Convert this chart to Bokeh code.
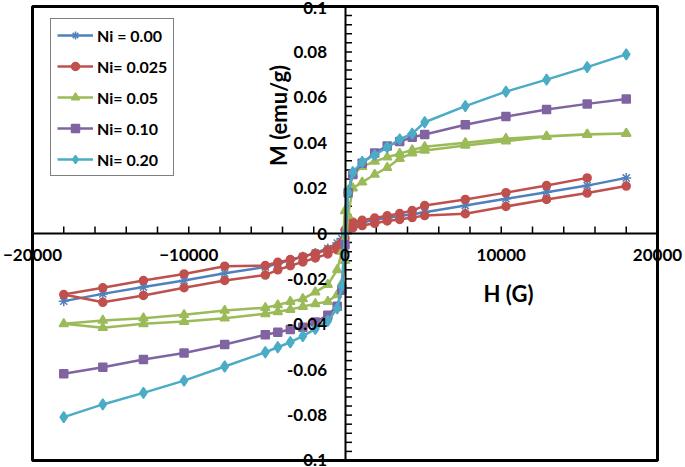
from math import pi
from bokeh.plotting import figure
from bokeh.models import LinearAxis, FixedTicker, Label, PrintfTickFormatter, BoxAnnotation
from bokeh.embed import file_html
from bokeh.resources import INLINE

# ---------------- data ----------------
H_DOWN = [18000, 15500, 12900, 10300, 7700, 5100, 4300, 3500, 2700, 1900, 1100, 500, 200, 0,
          -200, -500, -1100, -1900, -2700, -3500, -4300, -5100, -7700, -10300, -12900, -15500, -18000]
H_UP = list(reversed(H_DOWN))

# Ni = 0.00 (single branch, ascending field)
M_NI000 = [-0.0298, -0.0266, -0.0236, -0.0207, -0.0175, -0.0148, -0.0132, -0.0118, -0.0102, -0.0086,
           -0.0066, -0.0042, -0.0022, 0.0000, 0.0018, 0.0032, 0.0048, 0.0060, 0.0068, 0.0077,
           0.0085, 0.0094, 0.0123, 0.0153, 0.0182, 0.0211, 0.0245]

# Ni = 0.025 (loop: descending from 15500, then ascending from -15500)
M_NI025_DOWN = [0.0245, 0.0211, 0.0180, 0.0150, 0.0123, 0.0101, 0.0088, 0.0078, 0.0068, 0.0058,
                0.0050, 0.0040, 0.0015, -0.0040, -0.0055, -0.0072, -0.0088, -0.0102, -0.0115, -0.0127,
                -0.0141, -0.0144, -0.0178, -0.0207, -0.0239, -0.0269]
M_NI025_UP = [-0.0303, -0.0273, -0.0239, -0.0207, -0.0183, -0.0160, -0.0142, -0.0125, -0.0108, -0.0090,
              -0.0072, -0.0050, -0.0020, 0.0015, 0.0025, 0.0035, 0.0045, 0.0055, 0.0062, 0.0070,
              0.0079, 0.0087, 0.0119, 0.0150, 0.0178, 0.0209]

# Ni = 0.05 (loop: descending from 18000, then ascending from -15500)
M_NI05_DOWN = [0.0440, 0.0437, 0.0428, 0.0418, 0.0400, 0.0382, 0.0368, 0.0352, 0.0336, 0.0318,
               0.0295, 0.0260, 0.0190, 0.0100, -0.0080, -0.0160, -0.0225, -0.0258, -0.0288, -0.0300,
               -0.0315, -0.0327, -0.0339, -0.0358, -0.0373, -0.0383, -0.0398]
M_NI05_UP = [-0.0415, -0.0398, -0.0388, -0.0373, -0.0354, -0.0345, -0.0335, -0.0322, -0.0310, -0.0300,
             -0.0270, -0.0220, -0.0120, 0.0080, 0.0200, 0.0226, 0.0260, 0.0290, 0.0330, 0.0354,
             0.0366, 0.0388, 0.0407, 0.0427, 0.0436, 0.0440]

# Ni = 0.10 (single branch, ascending field)
M_NI10 = [-0.0618, -0.0589, -0.0555, -0.0526, -0.0489, -0.0446, -0.0435, -0.0423, -0.0413, -0.0390,
          -0.0360, -0.0320, -0.0250, -0.0050, 0.0180, 0.0260, 0.0310, 0.0355, 0.0385, 0.0405,
          0.0424, 0.0436, 0.0479, 0.0515, 0.0546, 0.0571, 0.0593]

# Ni = 0.20 (single branch, ascending field)
M_NI20 = [-0.0809, -0.0753, -0.0702, -0.0648, -0.0586, -0.0523, -0.0501, -0.0479, -0.0452, -0.0420,
          -0.0385, -0.0330, -0.0230, 0.0000, 0.0180, 0.0270, 0.0315, 0.0345, 0.0380, 0.0415,
          0.0440, 0.0490, 0.0561, 0.0625, 0.0678, 0.0733, 0.0789]

SERIES_LABELS = ["Ni = 0.00", "Ni= 0.025", "Ni= 0.05", "Ni= 0.10", "Ni= 0.20"]

X_LIMITS = (-20000, 20000)
Y_LIMITS = (-0.1, 0.1)
X_TICKS = [-20000, -10000, 0, 10000, 20000]
X_MINOR = [v for v in range(-20000, 20001, 2000)]
Y_TICKS = [-0.08, -0.06, -0.04, -0.02, 0, 0.02, 0.04, 0.06, 0.08]
Y_END_TICKS = [0.1, -0.1]
Y_END_LABELS = ["0.1", "0.1"]
Y_MINOR = [round(-0.1 + 0.004 * i, 3) for i in range(51)]

X_TITLE = "H (G)"
Y_TITLE = "M (emu/g)"

# ---------------- figure ----------------
# the frame fills the canvas; the plotted box (-20000..20000, -0.1..0.1) sits inside it,
# so tick labels at the box edges are not clipped.
W, H = 685, 467
BOX_L, BOX_R, BOX_T, BOX_B = 32, 657, 6, 460          # box edges in pixels
xpp = (X_LIMITS[1] - X_LIMITS[0]) / (BOX_R - BOX_L)   # data units per pixel
ypp = (Y_LIMITS[1] - Y_LIMITS[0]) / (BOX_B - BOX_T)
x_range = (X_LIMITS[0] - BOX_L * xpp, X_LIMITS[1] + (W - BOX_R) * xpp)
y_range = (Y_LIMITS[0] - (H - BOX_B) * ypp, Y_LIMITS[1] + BOX_T * ypp)
TICK_PX = 7

FONT = "Lato"
p = figure(width=W, height=H, x_range=x_range, y_range=y_range,
           x_axis_type=None, y_axis_type=None, output_backend="svg", toolbar_location=None,
           min_border=0)
p.outline_line_color = None
p.background_fill_color = "white"
p.border_fill_color = "white"

p.add_layout(BoxAnnotation(left=X_LIMITS[0], right=X_LIMITS[1], bottom=Y_LIMITS[0], top=Y_LIMITS[1],
                           fill_alpha=0, line_color="black", line_alpha=1, line_width=3))

# axes through the origin: line + labels (tick marks drawn below as segments)
xaxis = LinearAxis(fixed_location=0, bounds=X_LIMITS,
                   ticker=FixedTicker(ticks=X_TICKS, minor_ticks=X_MINOR))
yaxis = LinearAxis(fixed_location=0, bounds=Y_LIMITS,
                   ticker=FixedTicker(ticks=Y_TICKS, minor_ticks=Y_MINOR),
                   formatter=PrintfTickFormatter(format="%g"))
for ax, standoff in ((xaxis, 15), (yaxis, 18)):
    ax.axis_line_color = "black"
    ax.axis_line_width = 2
    ax.major_tick_in = 0
    ax.major_tick_out = 0
    ax.minor_tick_in = 0
    ax.minor_tick_out = 0
    ax.major_tick_line_color = None
    ax.minor_tick_line_color = None
    ax.major_label_text_font = FONT
    ax.major_label_text_font_style = "bold"
    ax.major_label_text_font_size = "17px"
    ax.major_label_text_color = "black"
    ax.major_label_standoff = standoff
p.add_layout(xaxis, "below")
p.add_layout(yaxis, "left")

# tick marks: upward on the H axis, rightward on the M axis
p.segment(x0=X_MINOR, y0=[0] * len(X_MINOR), x1=X_MINOR, y1=[TICK_PX * ypp] * len(X_MINOR),
          line_color="black", line_width=1.5)
p.segment(x0=[0] * len(Y_MINOR), y0=Y_MINOR, x1=[TICK_PX * xpp] * len(Y_MINOR), y1=Y_MINOR,
          line_color="black", line_width=1.5)

# end tick labels of the y axis
for yv, txt in zip(Y_END_TICKS, Y_END_LABELS):
    p.add_layout(Label(x=0, y=yv, text=txt, text_align="right",
                       text_baseline="top" if yv > 0 else "bottom",
                       x_offset=-18, y_offset=5 if yv > 0 else -5,
                       text_font=FONT, text_font_style="bold",
                       text_font_size="17px", text_color="black"))

# ---------------- series ----------------
series = [
    (H_UP, M_NI000, "#4F81BD", "asterisk", 10, SERIES_LABELS[0]),
    (H_DOWN[1:] + H_UP[1:], M_NI025_DOWN + M_NI025_UP, "#C0504D", "circle", 8, SERIES_LABELS[1]),
    (H_DOWN + H_UP[1:], M_NI05_DOWN + M_NI05_UP, "#9BBB59", "triangle", 9, SERIES_LABELS[2]),
    (H_UP, M_NI10, "#8064A2", "square", 8, SERIES_LABELS[3]),
    (H_UP, M_NI20, "#4BACC6", "diamond", 11, SERIES_LABELS[4]),
]
for xs, ys, color, marker, size, label in series:
    p.line(xs, ys, line_color=color, line_width=2.5, legend_label=label)
    p.scatter(xs, ys, marker=marker, size=size, fill_color=color, line_color=color,
              line_width=1.5, legend_label=label)

# ---------------- axis titles ----------------
p.add_layout(Label(x=-4256, y=0.052, text=Y_TITLE, angle=pi / 2, text_align="center",
                   text_baseline="middle", text_font=FONT, text_font_style="bold",
                   text_font_size="22px", text_color="black"))
p.add_layout(Label(x=10464, y=-0.0264, text=X_TITLE, text_align="center",
                   text_baseline="middle", text_font=FONT, text_font_style="bold",
                   text_font_size="22px", text_color="black"))

# ---------------- legend ----------------
lg = p.legend[0]
lg.location = (50, H - 176)
lg.margin = 0
lg.padding = 6
lg.spacing = 11
lg.glyph_width = 36
lg.glyph_height = 20
lg.label_height = 20
lg.label_standoff = 4
lg.label_text_font = FONT
lg.label_text_font_style = "bold"
lg.label_text_font_size = "16px"
lg.label_text_color = "black"
lg.border_line_color = "black"
lg.border_line_width = 1.5
lg.background_fill_alpha = 1

open("out.html", "w").write(file_html(p, INLINE))
